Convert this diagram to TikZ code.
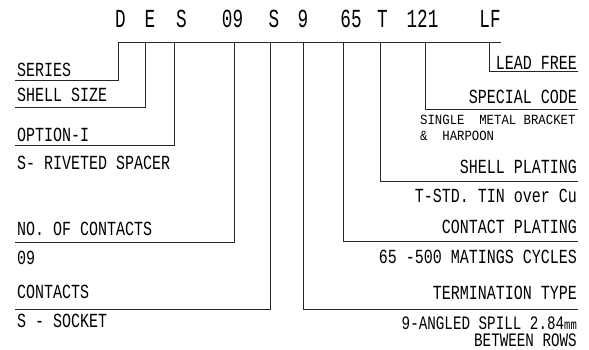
\documentclass[tikz,border=0pt]{standalone}
\usepackage{fontspec}
\setmainfont{Liberation Mono}[FakeStretch=0.75]
\newfontfamily\smallfnt{Liberation Mono}[FakeStretch=0.88]
\newfontfamily\codefnt{Liberation Mono}[FakeStretch=0.68]
\usepackage{tikz}
\usetikzlibrary{positioning}

\tikzset{
  code/.style={inner sep=0pt, anchor=base, font=\codefnt\fontsize{26}{26}\selectfont},
  lbl/.style={inner sep=0pt, font=\fontsize{20}{20}\selectfont},
  lead/.style={line width=0.8pt, draw=black!85}
}

\begin{document}
\begin{tikzpicture}[x=1pt, y=-1pt]
        \useasboundingbox (0,0) rectangle (589,349);
        % part number
        \node[code] (cD) at (120.5,27) {D};
        \node[code] (cE) at (150,27) {E};
        \node[code] (cS) at (181.5,27) {S};
        \node[code] (cN) at (232.5,27) {09};
        \node[code] (cK) at (274,27) {S};
        \node[code] (cTr) at (303,27) {9};
        \node[code] (cP) at (351,27) {65};
        \node[code] (cT) at (382.5,27) {T};
        \node[code] (cX) at (422.5,27) {121};
        \node[code] (cLF) at (490,27) {LF};
        % bar
        \coordinate (bL) at (118,42); \coordinate (bR) at (501,42);
        \coordinate (bE) at (145,42); \coordinate (bS) at (174,42);
        \coordinate (bN) at (234,42); \coordinate (bK) at (270,42);
        \coordinate (bTr) at (303,42); \coordinate (bP) at (343,42);
        \coordinate (bT) at (380,42); \coordinate (bX) at (425,42);
        \coordinate (bLF) at (489,42);
        % left labels
        \node[lbl, anchor=base west] (series) at (17,76) {SERIES};
        \node[lbl, anchor=base west] (shell) at (17,101) {SHELL SIZE};
        \node[lbl, anchor=base west] (opt) at (17,141) {OPTION-I};
        \node[lbl, anchor=base west] (optv) at (17,169) {S- RIVETED SPACER};
        \node[lbl, anchor=base west] (noc) at (17,235) {NO. OF CONTACTS};
        \node[lbl, anchor=base west] (nocv) at (17,264) {09};
        \node[lbl, anchor=base west] (cont) at (17,298) {CONTACTS};
        \node[lbl, anchor=base west] (contv) at (17,327) {S - SOCKET};
        \coordinate (eD) at (15,80); \coordinate (eE) at (15,107);
        \coordinate (eS) at (15,145); \coordinate (eN) at (15,242);
        \coordinate (eK) at (15,309);
        % right labels
        \node[lbl, anchor=base east] (lf) at (577,69) {LEAD FREE};
        \node[lbl, anchor=base east] (spc) at (577,103) {SPECIAL CODE};
        \node[inner sep=0pt, anchor=base west, align=left, font=\smallfnt\fontsize{14}{15.5}\selectfont] (spcv) at (420,140) {SINGLE~~METAL BRACKET\\\&~~HARPOON};
        \node[lbl, anchor=base east] (shp) at (577,173) {SHELL PLATING};
        \node[lbl, anchor=base east] (shpv) at (577,202) {T-STD. TIN over Cu};
        \node[lbl, anchor=base east] (cpl) at (577,233) {CONTACT PLATING};
        \node[lbl, anchor=base east] (cplv) at (577,263) {65 -500 MATINGS CYCLES};
        \node[lbl, anchor=base east] (term) at (577,299) {TERMINATION TYPE};
        \node[lbl, anchor=base east, align=right, font=\fontsize{19}{17}\selectfont] (termv) at (577,346) {9-ANGLED SPILL 2.84{\fontsize{14}{14}\selectfont mm}\\BETWEEN ROWS};
        \coordinate (eLF) at (578,71); \coordinate (eX) at (578,109);
        \coordinate (eT) at (578,181); \coordinate (eP) at (578,241);
        \coordinate (eTr) at (578,309);
        % leaders
        \draw[lead] (bL) -- (bR);
        \draw[lead] (bL) |- (eD);
        \draw[lead] (bE) |- (eE);
        \draw[lead] (bS) |- (eS);
        \draw[lead] (bN) |- (eN);
        \draw[lead] (bK) |- (eK);
        \draw[lead] (bTr) |- (eTr);
        \draw[lead] (bP) |- (eP);
        \draw[lead] (bT) |- (eT);
        \draw[lead] (bX) |- (eX);
        \draw[lead] (bLF) |- (eLF);
      \end{tikzpicture}
\end{document}
